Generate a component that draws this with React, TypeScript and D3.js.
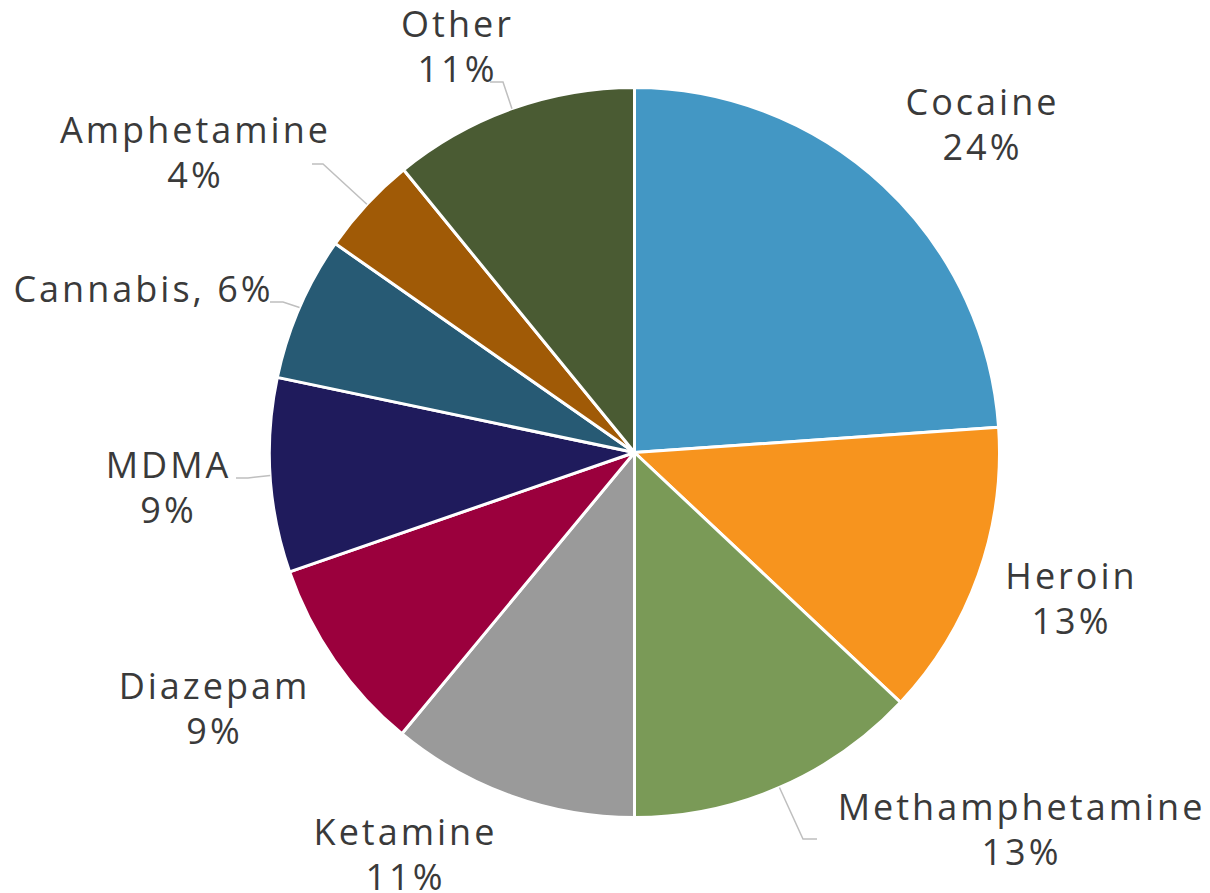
import React from "react";
import * as d3 from "d3";

const categories = ["Cocaine", "Heroin", "Methamphetamine", "Ketamine", "Diazepam", "MDMA", "Cannabis", "Amphetamine", "Other"];
const shares = [23.9, 13.1, 13.0, 11.0, 8.7, 8.6, 6.4, 4.4, 10.9];
const colors = ["#4397C4", "#F7941E", "#7A9A57", "#9A9A9A", "#9B003D", "#1F1B5C", "#275A74", "#A05A06", "#4A5B33"];

// label layout: center x, first baseline, single-line flag
const labelLayout = [
  { x: 981, y: 115, single: false },
  { x: 1070, y: 589, single: false },
  { x: 1020, y: 820, single: false },
  { x: 404, y: 845, single: false },
  { x: 213, y: 699, single: false },
  { x: 167, y: 478, single: false },
  { x: 142, y: 302, single: true },
  { x: 194, y: 143, single: false },
  { x: 456, y: 37, single: false },
];
// leader lines: [start, elbow] ; end is computed on the arc at mid-angle
const leaders: Record<number, [number, number][]> = {
  2: [[817, 839], [803, 839]],
  5: [[236, 478], [248, 478]],
  6: [[270, 302], [283, 302]],
  7: [[312, 164], [323, 164]],
  8: [[490, 82], [503, 82]],
};

const W = 1210, H = 893;
const cx = 634.5, cy = 452.5, R = 365;

export default function App() {
  const pie = d3.pie<number>().sort(null).value((d) => d);
  const arcs = pie(shares);
  const arcGen = d3.arc<d3.PieArcDatum<number>>().innerRadius(0).outerRadius(R);
  const fmt = (v: number) => `${Math.round(v)}%`;
  const font = "'Open Sans', sans-serif";
  const ls = 3;
  return (
    <svg width={W} height={H} style={{ position: "absolute", left: 0, top: 0, background: "#fff" }}>
      <g transform={`translate(${cx},${cy})`}>
        {arcs.map((a, i) => (
          <path key={i} d={arcGen(a) || ""} fill={colors[i]} stroke="#fff" strokeWidth={3} strokeLinejoin="round" />
        ))}
      </g>
      {Object.entries(leaders).map(([k, pts]) => {
        const i = +k;
        const a = arcs[i];
        const mid = (a.startAngle + a.endAngle) / 2;
        const end: [number, number] = [cx + R * Math.sin(mid), cy - R * Math.cos(mid)];
        const line = d3.line()([...pts, end]);
        return <path key={k} d={line || ""} fill="none" stroke="#BFBFBF" strokeWidth={1.5} />;
      })}
      {categories.map((c, i) => {
        const L = labelLayout[i];
        const style = { fontFamily: font, fontSize: 36, fill: "#3a3a3a", letterSpacing: `${ls}px` } as any;
        const x = L.x + ls / 2;
        if (L.single) {
          return (
            <text key={c} x={x} y={L.y} textAnchor="middle" style={style}>
              {`${c}, ${fmt(shares[i])}`}
            </text>
          );
        }
        return (
          <text key={c} textAnchor="middle" style={style}>
            <tspan x={x} y={L.y}>{c}</tspan>
            <tspan x={x} y={L.y + 45}>{fmt(shares[i])}</tspan>
          </text>
        );
      })}
    </svg>
  );
}
